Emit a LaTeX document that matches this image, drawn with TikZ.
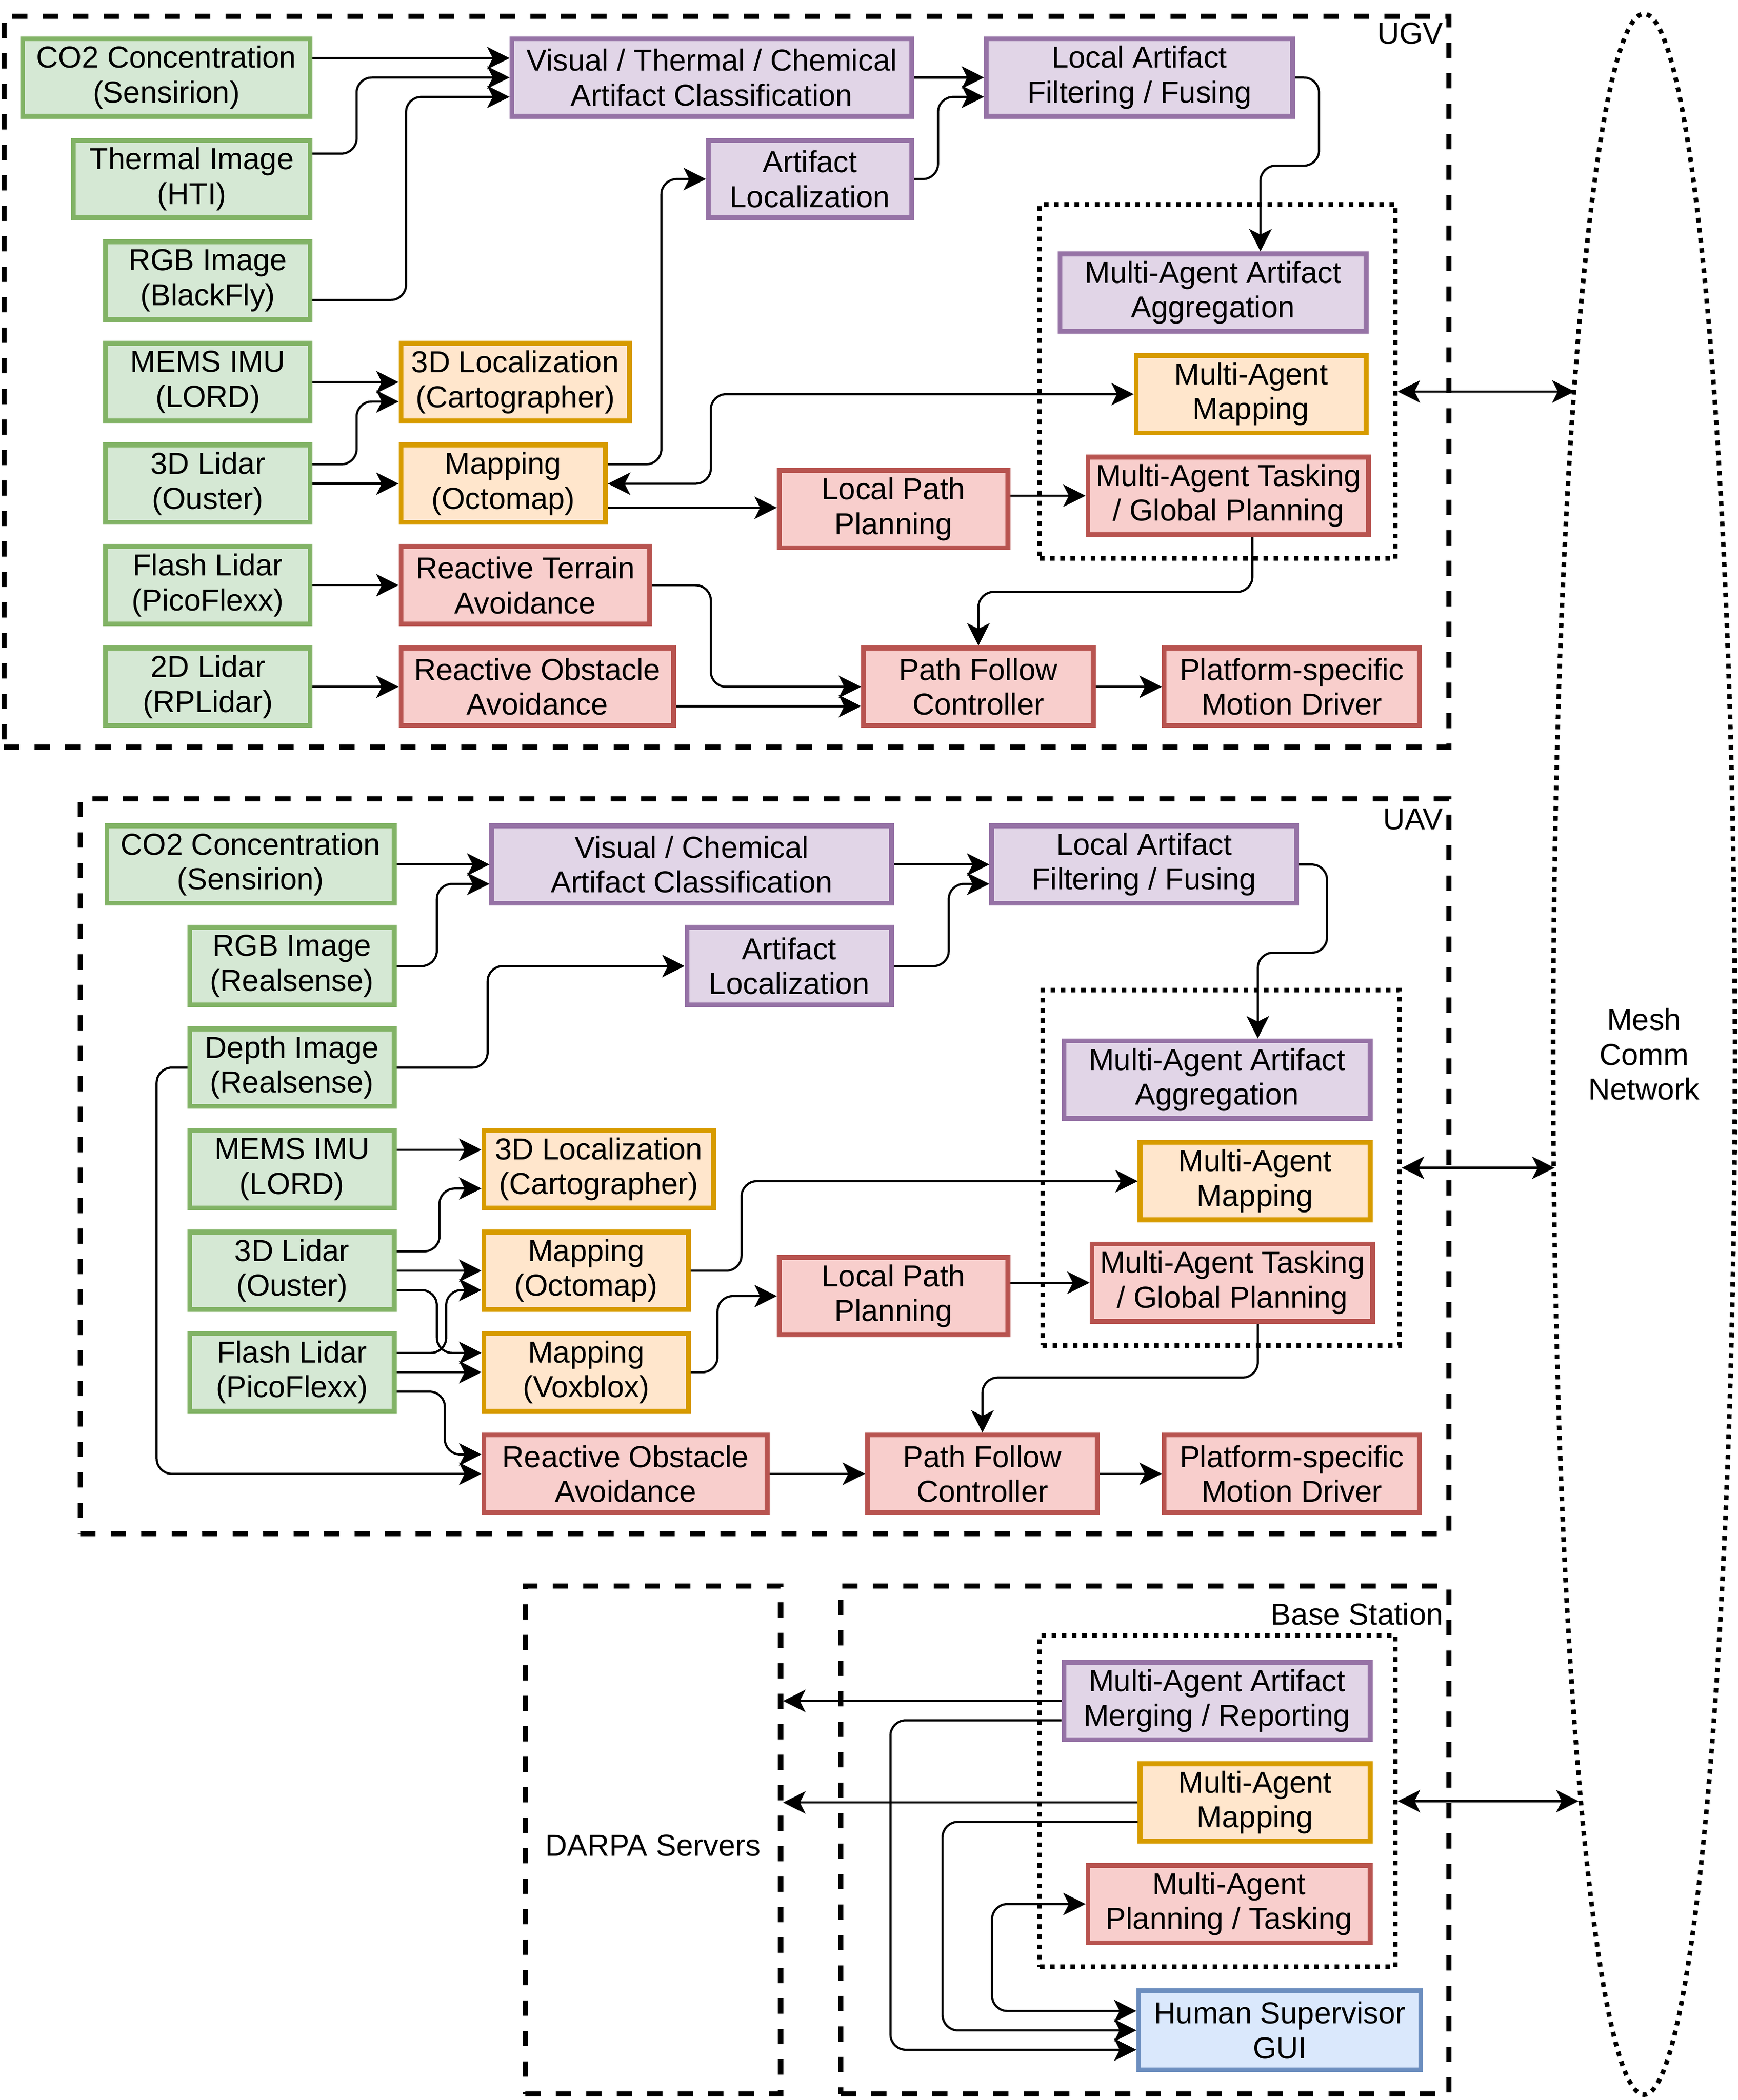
\documentclass[tikz,border=0pt]{standalone}
\usepackage{fontspec}
\setmainfont{Liberation Sans}
\usetikzlibrary{arrows.meta,shapes.geometric,calc}
\definecolor{grnF}{HTML}{D5E8D4}\definecolor{grnS}{HTML}{82B366}
\definecolor{purF}{HTML}{E1D5E7}\definecolor{purS}{HTML}{9673A6}
\definecolor{orgF}{HTML}{FFE6CC}\definecolor{orgS}{HTML}{D79B00}
\definecolor{redF}{HTML}{F8CECC}\definecolor{redS}{HTML}{B85450}
\definecolor{bluF}{HTML}{DAE8FC}\definecolor{bluS}{HTML}{6C8EBF}
\newcommand{\qf}{0.3815cm}
% \bxn{name}{style}{x1}{y1}{x2}{y2}{text}
\newcommand{\bxn}[7]{\node[#2, minimum width={(#5-#3)*0.02631cm}, minimum height={(#6-#4)*0.02631cm}] (#1) at ({(#3+#5)/2},{(#4+#6)/2}) {#7};}
\begin{document}
\begin{tikzpicture}[x=0.02631cm,y=-0.02631cm,
  font=\fontsize{17}{19.5}\selectfont,
  bx/.style={draw, line width=0.095cm, inner sep=0pt, align=center,
    execute at begin node={\rule{0pt}{15.4pt}}},
  grn/.style={bx, draw=grnS, fill=grnF},
  pur/.style={bx, draw=purS, fill=purF},
  org/.style={bx, draw=orgS, fill=orgF},
  redb/.style={bx, draw=redS, fill=redF},
  blu/.style={bx, draw=bluS, fill=bluF},
  tip/.tip={Stealth[length=0.44cm,width=0.44cm,inset=0.11cm]},
  conn/.style={line width=1.2pt, rounded corners=0.3cm, -tip},
  conn2/.style={line width=1.2pt, rounded corners=0.3cm, tip-tip},
  grp/.style={draw, line width=0.1cm, dash pattern=on 0.3cm off 0.3cm, inner sep=0pt, align=center},
  dots/.style={draw, line width=0.09cm, dash pattern=on 0.09cm off 0.11cm, inner sep=0pt},
]
\useasboundingbox (0,0) rectangle (1300,1571.67);

% ---------- group frames ----------
\bxn{ugv}{grp}{3}{12}{1084}{559}{}
\bxn{uav}{grp}{60}{598}{1084}{1148}{}
\bxn{darpa}{grp}{393}{1187}{584}{1567}{\rule{0pt}{18pt}DARPA Servers}
\bxn{base}{grp}{629}{1187}{1084}{1567}{}
\bxn{dota}{dots}{778}{153}{1044}{418}{}
\bxn{dotb}{dots}{780}{741}{1047}{1007}{}
\bxn{dotc}{dots}{778}{1224}{1044}{1472}{}
\node[dots, ellipse, minimum width=3.578cm, minimum height=40.965cm, align=center] (mesh) at (1230,789) {Mesh\\Comm\\Network};
\node[anchor=east, inner sep=0pt] (ugvl) at (1080,25) {UGV};
\node[anchor=east, inner sep=0pt] (uavl) at (1080,613) {UAV};
\node[anchor=east, inner sep=0pt] (basel) at (1080,1208) {Base Station};

% ---------- UGV ----------
\bxn{co2a}{grn}{17}{29}{232}{87}{CO2 Concentration\\(Sensirion)}
\bxn{therm}{grn}{55}{105}{232}{163}{Thermal Image\\(HTI)}
\bxn{rgba}{grn}{79}{181}{232}{239}{RGB Image\\(BlackFly)}
\bxn{imua}{grn}{79}{257}{232}{315}{MEMS IMU\\(LORD)}
\bxn{lidara}{grn}{79}{333}{232}{391}{3D Lidar\\(Ouster)}
\bxn{flasha}{grn}{79}{409}{232}{467}{Flash Lidar\\(PicoFlexx)}
\bxn{lidar2d}{grn}{79}{485}{232}{543}{2D Lidar\\(RPLidar)}
\bxn{carta}{org}{300}{257}{471}{315}{3D Localization\\(Cartographer)}
\bxn{octoa}{org}{300}{333}{453}{391}{Mapping\\(Octomap)}
\bxn{terrain}{redb}{300}{409}{486}{467}{Reactive Terrain\\Avoidance}
\bxn{obsta}{redb}{300}{485}{504}{543}{Reactive Obstacle\\Avoidance}
\bxn{visa}{pur}{383}{29}{682}{87}{Visual / Thermal / Chemical\\Artifact Classification}
\bxn{loca}{pur}{530}{105}{682}{163}{Artifact\\Localization}
\bxn{filta}{pur}{738}{29}{967}{87}{Local Artifact\\Filtering / Fusing}
\bxn{aggra}{pur}{793}{190}{1022}{248}{Multi-Agent Artifact\\Aggregation}
\bxn{mapa}{org}{850}{266}{1022}{324}{Multi-Agent\\Mapping}
\bxn{taska}{redb}{814}{342}{1024}{400}{Multi-Agent Tasking\\/ Global Planning}
\bxn{lppa}{redb}{583}{352}{754}{410}{Local Path\\Planning}
\bxn{pfa}{redb}{646}{485}{818}{543}{Path Follow\\Controller}
\bxn{drva}{redb}{871}{485}{1062}{543}{Platform-specific\\Motion Driver}

\draw[conn] ([yshift=\qf]co2a.east) -- ([yshift=\qf]visa.west);
\draw[conn] ([yshift=0.5cm]therm.east) -- ++(33,0) |- (visa.west);
\draw[conn] ([yshift=-\qf]rgba.east) -- ++(70,0) |- ([yshift=-\qf]visa.west);
\draw[conn] (imua.east) -- (carta.west);
\draw[conn] ([yshift=\qf]lidara.east) -- ++(33,0) |- ([yshift=-\qf]carta.west);
\draw[conn] (lidara.east) -- (octoa.west);
\draw[conn] ([yshift=\qf]octoa.east) -- ++(40,0) |- (loca.west);
\draw[conn2] (octoa.east) -- ++(77,0) |- (mapa.west);
\draw[conn] (octoa.east |- 0,380) -- (lppa.west |- 0,380);
\draw[conn] (flasha.east) -- (terrain.west);
\draw[conn] (lidar2d.east) -- (obsta.west);
\draw[conn] (terrain.east) -- ++(44,0) |- (pfa.west);
\draw[conn] ([yshift=-\qf]obsta.east) -- ([yshift=-\qf]pfa.west);
\draw[conn] (visa.east) -- (filta.west);
\draw[conn] (loca.east) -- ++(18,0) |- ([yshift=-\qf]filta.west);
\draw[conn] (filta.east) -- ++(18,0) |- (943,124) -- (aggra.north -| 943,0);
\draw[conn] (taska.south -| 937,0) -- (937,443) -| (pfa.north);
\draw[conn] (lppa.east |- taska.west) -- (taska.west);
\draw[conn] (pfa.east) -- (drva.west);
\coordinate (meshA) at (1178,293);
\draw[conn2] (dota.east |- meshA) -- (meshA);

% ---------- UAV ----------
\bxn{co2b}{grn}{80}{618}{295}{676}{CO2 Concentration\\(Sensirion)}
\bxn{rgbb}{grn}{142}{694}{295}{752}{RGB Image\\(Realsense)}
\bxn{depth}{grn}{142}{770}{295}{828}{Depth Image\\(Realsense)}
\bxn{imub}{grn}{142}{846}{295}{904}{MEMS IMU\\(LORD)}
\bxn{lidarb}{grn}{142}{922}{295}{980}{3D Lidar\\(Ouster)}
\bxn{flashb}{grn}{142}{998}{295}{1056}{Flash Lidar\\(PicoFlexx)}
\bxn{visb}{pur}{368}{618}{667}{676}{Visual / Chemical\\Artifact Classification}
\bxn{locb}{pur}{514}{694}{667}{752}{Artifact\\Localization}
\bxn{cartb}{org}{362}{846}{534}{904}{3D Localization\\(Cartographer)}
\bxn{octob}{org}{362}{922}{515}{980}{Mapping\\(Octomap)}
\bxn{voxb}{org}{362}{998}{515}{1056}{Mapping\\(Voxblox)}
\bxn{obstb}{redb}{362}{1074}{574}{1132}{Reactive Obstacle\\Avoidance}
\bxn{lppb}{redb}{583}{941}{754}{999}{Local Path\\Planning}
\bxn{filtb}{pur}{742}{618}{970}{676}{Local Artifact\\Filtering / Fusing}
\bxn{aggrb}{pur}{796}{779}{1025}{837}{Multi-Agent Artifact\\Aggregation}
\bxn{mapb}{org}{853}{855}{1025}{913}{Multi-Agent\\Mapping}
\bxn{taskb}{redb}{817}{931}{1027}{989}{Multi-Agent Tasking\\/ Global Planning}
\bxn{pfb}{redb}{649}{1074}{821}{1132}{Path Follow\\Controller}
\bxn{drvb}{redb}{871}{1074}{1062}{1132}{Platform-specific\\Motion Driver}

\draw[conn] (co2b.east) -- (visb.west);
\draw[conn] (rgbb.east) -- ++(30,0) |- ([yshift=-\qf]visb.west);
\draw[conn] (depth.east) -- ++(68,0) |- (locb.west);
\draw[conn] (depth.west) -- ++(-23,0) |- (obstb.west);
\draw[conn] ([yshift=\qf]imub.east) -- ([yshift=\qf]cartb.west);
\draw[conn] ([yshift=\qf]lidarb.east) -- ++(32,0) |- ([yshift=-\qf]cartb.west);
\draw[conn] (lidarb.east) -- (octob.west);
\draw[conn] ([yshift=-\qf]lidarb.east) -- ++(30,0) |- ([yshift=\qf]voxb.west);
\draw[conn] ([yshift=\qf]flashb.east) -- ++(37,0) |- ([yshift=-\qf]octob.west);
\draw[conn] (flashb.east) -- (voxb.west);
\draw[conn] ([yshift=-\qf]flashb.east) -- ++(36,0) |- ([yshift=\qf]obstb.west);
\draw[conn] (octob.east) -- ++(38,0) |- (mapb.west);
\draw[conn] (voxb.east) -- ++(20,0) |- (lppb.west);
\draw[conn] (lppb.east |- taskb.west) -- (taskb.west);
\draw[conn] (obstb.east) -- (pfb.west);
\draw[conn] (pfb.east) -- (drvb.west);
\draw[conn] (visb.east) -- (filtb.west);
\draw[conn] (locb.east) -- ++(41,0) |- ([yshift=-\qf]filtb.west);
\draw[conn] (filtb.east) -- ++(21,0) |- (941,713) -- (aggrb.north -| 941,0);
\draw[conn] (taskb.south -| 941,0) -- (941,1031) -| (pfb.north);
\coordinate (meshB) at (1163,874);
\draw[conn2] (dotb.east |- meshB) -- (meshB);

% ---------- Base Station ----------
\bxn{merge}{pur}{796}{1244}{1025}{1302}{Multi-Agent Artifact\\Merging / Reporting}
\bxn{mapc}{org}{853}{1320}{1025}{1378}{Multi-Agent\\Mapping}
\bxn{planc}{redb}{814}{1396}{1025}{1454}{Multi-Agent\\Planning / Tasking}
\bxn{gui}{blu}{852}{1490}{1063}{1549}{Human Supervisor\\GUI}

\draw[conn] (merge.west) -- (darpa.east |- merge.west);
\draw[conn] ([yshift=-\qf]merge.west) -- ++(-128,0) |- ([yshift=-\qf]gui.west);
\draw[conn] (mapc.west) -- (darpa.east |- mapc.west);
\draw[conn] ([yshift=-\qf]mapc.west) -- ++(-146,0) |- (gui.west);
\draw[conn2] ([yshift=\qf]gui.west) -- ++(-108,0) |- (planc.west);
\coordinate (meshC) at (1181,1348);
\draw[conn2] (dotc.east |- meshC) -- (meshC);
\end{tikzpicture}
\end{document}
